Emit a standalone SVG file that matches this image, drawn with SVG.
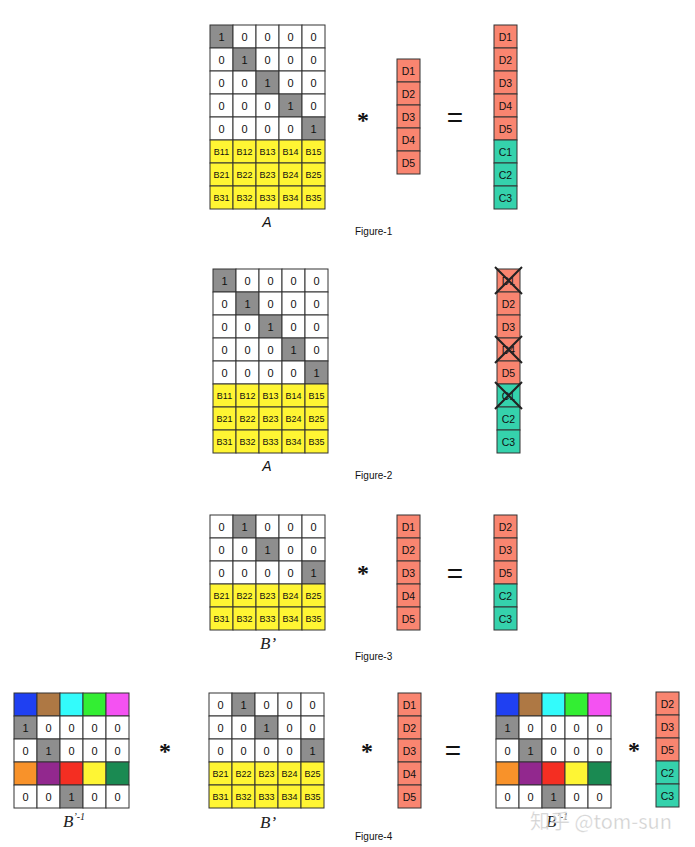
<svg xmlns="http://www.w3.org/2000/svg" width="695" height="847" viewBox="0 0 695 847">
<style>
.w{fill:#ffffff;stroke:#333;stroke-width:1}
.g{fill:#8e8e8e;stroke:#333;stroke-width:1}
.y{fill:#fff533;stroke:#333;stroke-width:1}
.d{fill:#f98570;stroke:#333;stroke-width:1}
.c{fill:#35d2ac;stroke:#333;stroke-width:1}
.n{font-family:"Liberation Sans",Arial,sans-serif;font-size:11px;fill:#111;text-anchor:middle}
.b{font-family:"Liberation Sans",Arial,sans-serif;font-size:9px;fill:#111;text-anchor:middle}
.v{font-family:"Liberation Sans",Arial,sans-serif;font-size:10.5px;fill:#111;text-anchor:middle}
.op{font-family:"Liberation Serif","Times New Roman",serif;font-size:24px;font-weight:bold;fill:#111;text-anchor:middle}
.eq{font-family:"Liberation Sans",Arial,sans-serif;font-size:28px;fill:#111;text-anchor:middle}
.cap{font-family:"Liberation Sans",Arial,sans-serif;font-size:10px;fill:#111}
.ia{font-family:"Liberation Sans",Arial,sans-serif;font-size:14px;font-style:italic;fill:#111;text-anchor:middle}
.ib{font-family:"Liberation Serif","Times New Roman",serif;font-size:17px;font-style:italic;fill:#222}
.x{stroke:#222;stroke-width:2;fill:none}
</style>

<!-- Figure 1 -->
<g id="fig1-matrixA" transform="translate(210,25)">
<rect class="g" x="0" y="0" width="23" height="23"/><rect class="w" x="23" y="0" width="23" height="23"/><rect class="w" x="46" y="0" width="23" height="23"/><rect class="w" x="69" y="0" width="23" height="23"/><rect class="w" x="92" y="0" width="23" height="23"/>
<rect class="w" x="0" y="23" width="23" height="23"/><rect class="g" x="23" y="23" width="23" height="23"/><rect class="w" x="46" y="23" width="23" height="23"/><rect class="w" x="69" y="23" width="23" height="23"/><rect class="w" x="92" y="23" width="23" height="23"/>
<rect class="w" x="0" y="46" width="23" height="23"/><rect class="w" x="23" y="46" width="23" height="23"/><rect class="g" x="46" y="46" width="23" height="23"/><rect class="w" x="69" y="46" width="23" height="23"/><rect class="w" x="92" y="46" width="23" height="23"/>
<rect class="w" x="0" y="69" width="23" height="23"/><rect class="w" x="23" y="69" width="23" height="23"/><rect class="w" x="46" y="69" width="23" height="23"/><rect class="g" x="69" y="69" width="23" height="23"/><rect class="w" x="92" y="69" width="23" height="23"/>
<rect class="w" x="0" y="92" width="23" height="23"/><rect class="w" x="23" y="92" width="23" height="23"/><rect class="w" x="46" y="92" width="23" height="23"/><rect class="w" x="69" y="92" width="23" height="23"/><rect class="g" x="92" y="92" width="23" height="23"/>
<rect class="y" x="0" y="115" width="23" height="23"/><rect class="y" x="23" y="115" width="23" height="23"/><rect class="y" x="46" y="115" width="23" height="23"/><rect class="y" x="69" y="115" width="23" height="23"/><rect class="y" x="92" y="115" width="23" height="23"/>
<rect class="y" x="0" y="138" width="23" height="23"/><rect class="y" x="23" y="138" width="23" height="23"/><rect class="y" x="46" y="138" width="23" height="23"/><rect class="y" x="69" y="138" width="23" height="23"/><rect class="y" x="92" y="138" width="23" height="23"/>
<rect class="y" x="0" y="161" width="23" height="23"/><rect class="y" x="23" y="161" width="23" height="23"/><rect class="y" x="46" y="161" width="23" height="23"/><rect class="y" x="69" y="161" width="23" height="23"/><rect class="y" x="92" y="161" width="23" height="23"/>
<text class="n" x="11.5" y="15.5">1</text><text class="n" x="34.5" y="15.5">0</text><text class="n" x="57.5" y="15.5">0</text><text class="n" x="80.5" y="15.5">0</text><text class="n" x="103.5" y="15.5">0</text>
<text class="n" x="11.5" y="38.5">0</text><text class="n" x="34.5" y="38.5">1</text><text class="n" x="57.5" y="38.5">0</text><text class="n" x="80.5" y="38.5">0</text><text class="n" x="103.5" y="38.5">0</text>
<text class="n" x="11.5" y="61.5">0</text><text class="n" x="34.5" y="61.5">0</text><text class="n" x="57.5" y="61.5">1</text><text class="n" x="80.5" y="61.5">0</text><text class="n" x="103.5" y="61.5">0</text>
<text class="n" x="11.5" y="84.5">0</text><text class="n" x="34.5" y="84.5">0</text><text class="n" x="57.5" y="84.5">0</text><text class="n" x="80.5" y="84.5">1</text><text class="n" x="103.5" y="84.5">0</text>
<text class="n" x="11.5" y="107.5">0</text><text class="n" x="34.5" y="107.5">0</text><text class="n" x="57.5" y="107.5">0</text><text class="n" x="80.5" y="107.5">0</text><text class="n" x="103.5" y="107.5">1</text>
<text class="b" x="11.5" y="130">B11</text><text class="b" x="34.5" y="130">B12</text><text class="b" x="57.5" y="130">B13</text><text class="b" x="80.5" y="130">B14</text><text class="b" x="103.5" y="130">B15</text>
<text class="b" x="11.5" y="153">B21</text><text class="b" x="34.5" y="153">B22</text><text class="b" x="57.5" y="153">B23</text><text class="b" x="80.5" y="153">B24</text><text class="b" x="103.5" y="153">B25</text>
<text class="b" x="11.5" y="176">B31</text><text class="b" x="34.5" y="176">B32</text><text class="b" x="57.5" y="176">B33</text><text class="b" x="80.5" y="176">B34</text><text class="b" x="103.5" y="176">B35</text>
</g>
<text class="ia" x="267" y="227">A</text>
<text class="op" x="363" y="128">*</text>
<g id="fig1-vecD" transform="translate(397,59)">
<rect class="d" x="0" y="0" width="23" height="23"/><rect class="d" x="0" y="23" width="23" height="23"/><rect class="d" x="0" y="46" width="23" height="23"/><rect class="d" x="0" y="69" width="23" height="23"/><rect class="d" x="0" y="92" width="23" height="23"/>
<text class="v" x="11.5" y="15.5">D1</text><text class="v" x="11.5" y="38.5">D2</text><text class="v" x="11.5" y="61.5">D3</text><text class="v" x="11.5" y="84.5">D4</text><text class="v" x="11.5" y="107.5">D5</text>
</g>
<text class="eq" x="455" y="127">=</text>
<g id="fig1-result" transform="translate(494,25)">
<rect class="d" x="0" y="0" width="23" height="23"/><rect class="d" x="0" y="23" width="23" height="23"/><rect class="d" x="0" y="46" width="23" height="23"/><rect class="d" x="0" y="69" width="23" height="23"/><rect class="d" x="0" y="92" width="23" height="23"/>
<rect class="c" x="0" y="115" width="23" height="23"/><rect class="c" x="0" y="138" width="23" height="23"/><rect class="c" x="0" y="161" width="23" height="23"/>
<text class="v" x="11.5" y="15.5">D1</text><text class="v" x="11.5" y="38.5">D2</text><text class="v" x="11.5" y="61.5">D3</text><text class="v" x="11.5" y="84.5">D4</text><text class="v" x="11.5" y="107.5">D5</text>
<text class="v" x="11.5" y="130.5">C1</text><text class="v" x="11.5" y="153.5">C2</text><text class="v" x="11.5" y="176.5">C3</text>
</g>
<text class="cap" x="355" y="235">Figure-1</text>

<!-- Figure 2 -->
<g id="fig2-matrixA" transform="translate(213,269)">
<rect class="g" x="0" y="0" width="23" height="23"/><rect class="w" x="23" y="0" width="23" height="23"/><rect class="w" x="46" y="0" width="23" height="23"/><rect class="w" x="69" y="0" width="23" height="23"/><rect class="w" x="92" y="0" width="23" height="23"/>
<rect class="w" x="0" y="23" width="23" height="23"/><rect class="g" x="23" y="23" width="23" height="23"/><rect class="w" x="46" y="23" width="23" height="23"/><rect class="w" x="69" y="23" width="23" height="23"/><rect class="w" x="92" y="23" width="23" height="23"/>
<rect class="w" x="0" y="46" width="23" height="23"/><rect class="w" x="23" y="46" width="23" height="23"/><rect class="g" x="46" y="46" width="23" height="23"/><rect class="w" x="69" y="46" width="23" height="23"/><rect class="w" x="92" y="46" width="23" height="23"/>
<rect class="w" x="0" y="69" width="23" height="23"/><rect class="w" x="23" y="69" width="23" height="23"/><rect class="w" x="46" y="69" width="23" height="23"/><rect class="g" x="69" y="69" width="23" height="23"/><rect class="w" x="92" y="69" width="23" height="23"/>
<rect class="w" x="0" y="92" width="23" height="23"/><rect class="w" x="23" y="92" width="23" height="23"/><rect class="w" x="46" y="92" width="23" height="23"/><rect class="w" x="69" y="92" width="23" height="23"/><rect class="g" x="92" y="92" width="23" height="23"/>
<rect class="y" x="0" y="115" width="23" height="23"/><rect class="y" x="23" y="115" width="23" height="23"/><rect class="y" x="46" y="115" width="23" height="23"/><rect class="y" x="69" y="115" width="23" height="23"/><rect class="y" x="92" y="115" width="23" height="23"/>
<rect class="y" x="0" y="138" width="23" height="23"/><rect class="y" x="23" y="138" width="23" height="23"/><rect class="y" x="46" y="138" width="23" height="23"/><rect class="y" x="69" y="138" width="23" height="23"/><rect class="y" x="92" y="138" width="23" height="23"/>
<rect class="y" x="0" y="161" width="23" height="23"/><rect class="y" x="23" y="161" width="23" height="23"/><rect class="y" x="46" y="161" width="23" height="23"/><rect class="y" x="69" y="161" width="23" height="23"/><rect class="y" x="92" y="161" width="23" height="23"/>
<text class="n" x="11.5" y="15.5">1</text><text class="n" x="34.5" y="15.5">0</text><text class="n" x="57.5" y="15.5">0</text><text class="n" x="80.5" y="15.5">0</text><text class="n" x="103.5" y="15.5">0</text>
<text class="n" x="11.5" y="38.5">0</text><text class="n" x="34.5" y="38.5">1</text><text class="n" x="57.5" y="38.5">0</text><text class="n" x="80.5" y="38.5">0</text><text class="n" x="103.5" y="38.5">0</text>
<text class="n" x="11.5" y="61.5">0</text><text class="n" x="34.5" y="61.5">0</text><text class="n" x="57.5" y="61.5">1</text><text class="n" x="80.5" y="61.5">0</text><text class="n" x="103.5" y="61.5">0</text>
<text class="n" x="11.5" y="84.5">0</text><text class="n" x="34.5" y="84.5">0</text><text class="n" x="57.5" y="84.5">0</text><text class="n" x="80.5" y="84.5">1</text><text class="n" x="103.5" y="84.5">0</text>
<text class="n" x="11.5" y="107.5">0</text><text class="n" x="34.5" y="107.5">0</text><text class="n" x="57.5" y="107.5">0</text><text class="n" x="80.5" y="107.5">0</text><text class="n" x="103.5" y="107.5">1</text>
<text class="b" x="11.5" y="130">B11</text><text class="b" x="34.5" y="130">B12</text><text class="b" x="57.5" y="130">B13</text><text class="b" x="80.5" y="130">B14</text><text class="b" x="103.5" y="130">B15</text>
<text class="b" x="11.5" y="153">B21</text><text class="b" x="34.5" y="153">B22</text><text class="b" x="57.5" y="153">B23</text><text class="b" x="80.5" y="153">B24</text><text class="b" x="103.5" y="153">B25</text>
<text class="b" x="11.5" y="176">B31</text><text class="b" x="34.5" y="176">B32</text><text class="b" x="57.5" y="176">B33</text><text class="b" x="80.5" y="176">B34</text><text class="b" x="103.5" y="176">B35</text>
</g>
<text class="ia" x="267" y="471">A</text>
<g id="fig2-vector" transform="translate(497,269)">
<rect class="d" x="0" y="0" width="23" height="23"/><rect class="d" x="0" y="23" width="23" height="23"/><rect class="d" x="0" y="46" width="23" height="23"/><rect class="d" x="0" y="69" width="23" height="23"/><rect class="d" x="0" y="92" width="23" height="23"/>
<rect class="c" x="0" y="115" width="23" height="23"/><rect class="c" x="0" y="138" width="23" height="23"/><rect class="c" x="0" y="161" width="23" height="23"/>
<text class="v" x="11.5" y="15.5">D1</text><text class="v" x="11.5" y="38.5">D2</text><text class="v" x="11.5" y="61.5">D3</text><text class="v" x="11.5" y="84.5">D4</text><text class="v" x="11.5" y="107.5">D5</text>
<text class="v" x="11.5" y="130.5">C1</text><text class="v" x="11.5" y="153.5">C2</text><text class="v" x="11.5" y="176.5">C3</text>
<path class="x" d="M-2,-2 L25,25 M25,-2 L-2,25"/>
<path class="x" d="M-2,67 L25,94 M25,67 L-2,94"/>
<path class="x" d="M-2,113 L25,140 M25,113 L-2,140"/>
</g>
<text class="cap" x="355" y="479">Figure-2</text>

<!-- Figure 3 -->
<g id="fig3-matrixB" transform="translate(210,515)">
<rect class="w" x="0" y="0" width="23" height="23"/><rect class="g" x="23" y="0" width="23" height="23"/><rect class="w" x="46" y="0" width="23" height="23"/><rect class="w" x="69" y="0" width="23" height="23"/><rect class="w" x="92" y="0" width="23" height="23"/>
<rect class="w" x="0" y="23" width="23" height="23"/><rect class="w" x="23" y="23" width="23" height="23"/><rect class="g" x="46" y="23" width="23" height="23"/><rect class="w" x="69" y="23" width="23" height="23"/><rect class="w" x="92" y="23" width="23" height="23"/>
<rect class="w" x="0" y="46" width="23" height="23"/><rect class="w" x="23" y="46" width="23" height="23"/><rect class="w" x="46" y="46" width="23" height="23"/><rect class="w" x="69" y="46" width="23" height="23"/><rect class="g" x="92" y="46" width="23" height="23"/>
<rect class="y" x="0" y="69" width="23" height="23"/><rect class="y" x="23" y="69" width="23" height="23"/><rect class="y" x="46" y="69" width="23" height="23"/><rect class="y" x="69" y="69" width="23" height="23"/><rect class="y" x="92" y="69" width="23" height="23"/>
<rect class="y" x="0" y="92" width="23" height="23"/><rect class="y" x="23" y="92" width="23" height="23"/><rect class="y" x="46" y="92" width="23" height="23"/><rect class="y" x="69" y="92" width="23" height="23"/><rect class="y" x="92" y="92" width="23" height="23"/>
<text class="n" x="11.5" y="15.5">0</text><text class="n" x="34.5" y="15.5">1</text><text class="n" x="57.5" y="15.5">0</text><text class="n" x="80.5" y="15.5">0</text><text class="n" x="103.5" y="15.5">0</text>
<text class="n" x="11.5" y="38.5">0</text><text class="n" x="34.5" y="38.5">0</text><text class="n" x="57.5" y="38.5">1</text><text class="n" x="80.5" y="38.5">0</text><text class="n" x="103.5" y="38.5">0</text>
<text class="n" x="11.5" y="61.5">0</text><text class="n" x="34.5" y="61.5">0</text><text class="n" x="57.5" y="61.5">0</text><text class="n" x="80.5" y="61.5">0</text><text class="n" x="103.5" y="61.5">1</text>
<text class="b" x="11.5" y="84">B21</text><text class="b" x="34.5" y="84">B22</text><text class="b" x="57.5" y="84">B23</text><text class="b" x="80.5" y="84">B24</text><text class="b" x="103.5" y="84">B25</text>
<text class="b" x="11.5" y="107">B31</text><text class="b" x="34.5" y="107">B32</text><text class="b" x="57.5" y="107">B33</text><text class="b" x="80.5" y="107">B34</text><text class="b" x="103.5" y="107">B35</text>
</g>
<text class="ib" x="260" y="649">B’</text>
<text class="op" x="363" y="581">*</text>
<g id="fig3-vecD" transform="translate(397,515)">
<rect class="d" x="0" y="0" width="23" height="23"/><rect class="d" x="0" y="23" width="23" height="23"/><rect class="d" x="0" y="46" width="23" height="23"/><rect class="d" x="0" y="69" width="23" height="23"/><rect class="d" x="0" y="92" width="23" height="23"/>
<text class="v" x="11.5" y="15.5">D1</text><text class="v" x="11.5" y="38.5">D2</text><text class="v" x="11.5" y="61.5">D3</text><text class="v" x="11.5" y="84.5">D4</text><text class="v" x="11.5" y="107.5">D5</text>
</g>
<text class="eq" x="455" y="583">=</text>
<g id="fig3-result" transform="translate(494,515)">
<rect class="d" x="0" y="0" width="23" height="23"/><rect class="d" x="0" y="23" width="23" height="23"/><rect class="d" x="0" y="46" width="23" height="23"/><rect class="c" x="0" y="69" width="23" height="23"/><rect class="c" x="0" y="92" width="23" height="23"/>
<text class="v" x="11.5" y="15.5">D2</text><text class="v" x="11.5" y="38.5">D3</text><text class="v" x="11.5" y="61.5">D5</text><text class="v" x="11.5" y="84.5">C2</text><text class="v" x="11.5" y="107.5">C3</text>
</g>
<text class="cap" x="355" y="660">Figure-3</text>

<!-- Figure 4 -->
<g id="fig4-inverse" transform="translate(14,693)">
<rect x="0" y="0" width="23" height="23" fill="#1f40f2" stroke="#333"/><rect x="23" y="0" width="23" height="23" fill="#ae7844" stroke="#333"/><rect x="46" y="0" width="23" height="23" fill="#33fbfb" stroke="#333"/><rect x="69" y="0" width="23" height="23" fill="#33ee33" stroke="#333"/><rect x="92" y="0" width="23" height="23" fill="#f452f2" stroke="#333"/>
<rect class="g" x="0" y="23" width="23" height="23"/><rect class="w" x="23" y="23" width="23" height="23"/><rect class="w" x="46" y="23" width="23" height="23"/><rect class="w" x="69" y="23" width="23" height="23"/><rect class="w" x="92" y="23" width="23" height="23"/>
<rect class="w" x="0" y="46" width="23" height="23"/><rect class="g" x="23" y="46" width="23" height="23"/><rect class="w" x="46" y="46" width="23" height="23"/><rect class="w" x="69" y="46" width="23" height="23"/><rect class="w" x="92" y="46" width="23" height="23"/>
<rect x="0" y="69" width="23" height="23" fill="#f8922a" stroke="#333"/><rect x="23" y="69" width="23" height="23" fill="#92288e" stroke="#333"/><rect x="46" y="69" width="23" height="23" fill="#f42e22" stroke="#333"/><rect x="69" y="69" width="23" height="23" fill="#fef534" stroke="#333"/><rect x="92" y="69" width="23" height="23" fill="#1a8a52" stroke="#333"/>
<rect class="w" x="0" y="92" width="23" height="23"/><rect class="w" x="23" y="92" width="23" height="23"/><rect class="g" x="46" y="92" width="23" height="23"/><rect class="w" x="69" y="92" width="23" height="23"/><rect class="w" x="92" y="92" width="23" height="23"/>
<text class="n" x="11.5" y="38.5">1</text><text class="n" x="34.5" y="38.5">0</text><text class="n" x="57.5" y="38.5">0</text><text class="n" x="80.5" y="38.5">0</text><text class="n" x="103.5" y="38.5">0</text>
<text class="n" x="11.5" y="61.5">0</text><text class="n" x="34.5" y="61.5">1</text><text class="n" x="57.5" y="61.5">0</text><text class="n" x="80.5" y="61.5">0</text><text class="n" x="103.5" y="61.5">0</text>
<text class="n" x="11.5" y="107.5">0</text><text class="n" x="34.5" y="107.5">0</text><text class="n" x="57.5" y="107.5">1</text><text class="n" x="80.5" y="107.5">0</text><text class="n" x="103.5" y="107.5">0</text>
</g>
<text class="ib" x="63" y="827">B<tspan font-size="10" dy="-7">’-1</tspan></text>
<text class="op" x="165" y="759">*</text>
<g id="fig4-matrixB" transform="translate(209,693)">
<rect class="w" x="0" y="0" width="23" height="23"/><rect class="g" x="23" y="0" width="23" height="23"/><rect class="w" x="46" y="0" width="23" height="23"/><rect class="w" x="69" y="0" width="23" height="23"/><rect class="w" x="92" y="0" width="23" height="23"/>
<rect class="w" x="0" y="23" width="23" height="23"/><rect class="w" x="23" y="23" width="23" height="23"/><rect class="g" x="46" y="23" width="23" height="23"/><rect class="w" x="69" y="23" width="23" height="23"/><rect class="w" x="92" y="23" width="23" height="23"/>
<rect class="w" x="0" y="46" width="23" height="23"/><rect class="w" x="23" y="46" width="23" height="23"/><rect class="w" x="46" y="46" width="23" height="23"/><rect class="w" x="69" y="46" width="23" height="23"/><rect class="g" x="92" y="46" width="23" height="23"/>
<rect class="y" x="0" y="69" width="23" height="23"/><rect class="y" x="23" y="69" width="23" height="23"/><rect class="y" x="46" y="69" width="23" height="23"/><rect class="y" x="69" y="69" width="23" height="23"/><rect class="y" x="92" y="69" width="23" height="23"/>
<rect class="y" x="0" y="92" width="23" height="23"/><rect class="y" x="23" y="92" width="23" height="23"/><rect class="y" x="46" y="92" width="23" height="23"/><rect class="y" x="69" y="92" width="23" height="23"/><rect class="y" x="92" y="92" width="23" height="23"/>
<text class="n" x="11.5" y="15.5">0</text><text class="n" x="34.5" y="15.5">1</text><text class="n" x="57.5" y="15.5">0</text><text class="n" x="80.5" y="15.5">0</text><text class="n" x="103.5" y="15.5">0</text>
<text class="n" x="11.5" y="38.5">0</text><text class="n" x="34.5" y="38.5">0</text><text class="n" x="57.5" y="38.5">1</text><text class="n" x="80.5" y="38.5">0</text><text class="n" x="103.5" y="38.5">0</text>
<text class="n" x="11.5" y="61.5">0</text><text class="n" x="34.5" y="61.5">0</text><text class="n" x="57.5" y="61.5">0</text><text class="n" x="80.5" y="61.5">0</text><text class="n" x="103.5" y="61.5">1</text>
<text class="b" x="11.5" y="84">B21</text><text class="b" x="34.5" y="84">B22</text><text class="b" x="57.5" y="84">B23</text><text class="b" x="80.5" y="84">B24</text><text class="b" x="103.5" y="84">B25</text>
<text class="b" x="11.5" y="107">B31</text><text class="b" x="34.5" y="107">B32</text><text class="b" x="57.5" y="107">B33</text><text class="b" x="80.5" y="107">B34</text><text class="b" x="103.5" y="107">B35</text>
</g>
<text class="ib" x="260" y="828">B’</text>
<text class="op" x="367" y="759">*</text>
<g id="fig4-vecD" transform="translate(398,693)">
<rect class="d" x="0" y="0" width="23" height="23"/><rect class="d" x="0" y="23" width="23" height="23"/><rect class="d" x="0" y="46" width="23" height="23"/><rect class="d" x="0" y="69" width="23" height="23"/><rect class="d" x="0" y="92" width="23" height="23"/>
<text class="v" x="11.5" y="15.5">D1</text><text class="v" x="11.5" y="38.5">D2</text><text class="v" x="11.5" y="61.5">D3</text><text class="v" x="11.5" y="84.5">D4</text><text class="v" x="11.5" y="107.5">D5</text>
</g>
<text class="eq" x="453" y="760">=</text>
<g id="fig4-inverse-right" transform="translate(496,693)">
<rect x="0" y="0" width="23" height="23" fill="#1f40f2" stroke="#333"/><rect x="23" y="0" width="23" height="23" fill="#ae7844" stroke="#333"/><rect x="46" y="0" width="23" height="23" fill="#33fbfb" stroke="#333"/><rect x="69" y="0" width="23" height="23" fill="#33ee33" stroke="#333"/><rect x="92" y="0" width="23" height="23" fill="#f452f2" stroke="#333"/>
<rect class="g" x="0" y="23" width="23" height="23"/><rect class="w" x="23" y="23" width="23" height="23"/><rect class="w" x="46" y="23" width="23" height="23"/><rect class="w" x="69" y="23" width="23" height="23"/><rect class="w" x="92" y="23" width="23" height="23"/>
<rect class="w" x="0" y="46" width="23" height="23"/><rect class="g" x="23" y="46" width="23" height="23"/><rect class="w" x="46" y="46" width="23" height="23"/><rect class="w" x="69" y="46" width="23" height="23"/><rect class="w" x="92" y="46" width="23" height="23"/>
<rect x="0" y="69" width="23" height="23" fill="#f8922a" stroke="#333"/><rect x="23" y="69" width="23" height="23" fill="#92288e" stroke="#333"/><rect x="46" y="69" width="23" height="23" fill="#f42e22" stroke="#333"/><rect x="69" y="69" width="23" height="23" fill="#fef534" stroke="#333"/><rect x="92" y="69" width="23" height="23" fill="#1a8a52" stroke="#333"/>
<rect class="w" x="0" y="92" width="23" height="23"/><rect class="w" x="23" y="92" width="23" height="23"/><rect class="g" x="46" y="92" width="23" height="23"/><rect class="w" x="69" y="92" width="23" height="23"/><rect class="w" x="92" y="92" width="23" height="23"/>
<text class="n" x="11.5" y="38.5">1</text><text class="n" x="34.5" y="38.5">0</text><text class="n" x="57.5" y="38.5">0</text><text class="n" x="80.5" y="38.5">0</text><text class="n" x="103.5" y="38.5">0</text>
<text class="n" x="11.5" y="61.5">0</text><text class="n" x="34.5" y="61.5">1</text><text class="n" x="57.5" y="61.5">0</text><text class="n" x="80.5" y="61.5">0</text><text class="n" x="103.5" y="61.5">0</text>
<text class="n" x="11.5" y="107.5">0</text><text class="n" x="34.5" y="107.5">0</text><text class="n" x="57.5" y="107.5">1</text><text class="n" x="80.5" y="107.5">0</text><text class="n" x="103.5" y="107.5">0</text>
</g>
<text class="ib" x="546" y="827">B<tspan font-size="10" dy="-7">’-1</tspan></text>
<text class="op" x="634" y="758">*</text>
<g id="fig4-result" transform="translate(656,692)">
<rect class="d" x="0" y="0" width="23" height="23"/><rect class="d" x="0" y="23" width="23" height="23"/><rect class="d" x="0" y="46" width="23" height="23"/><rect class="c" x="0" y="69" width="23" height="23"/><rect class="c" x="0" y="92" width="23" height="23"/>
<text class="v" x="11.5" y="15.5">D2</text><text class="v" x="11.5" y="38.5">D3</text><text class="v" x="11.5" y="61.5">D5</text><text class="v" x="11.5" y="84.5">C2</text><text class="v" x="11.5" y="107.5">C3</text>
</g>
<text class="cap" x="355" y="840">Figure-4</text>
<text x="530" y="829" font-family="'Noto Sans CJK SC','Liberation Sans',sans-serif" font-size="20" fill="#c8c8c8" fill-opacity="0.85" stroke="#ffffff" stroke-width="0.6" stroke-opacity="0.6">知乎 @tom-sun</text>
</svg>
